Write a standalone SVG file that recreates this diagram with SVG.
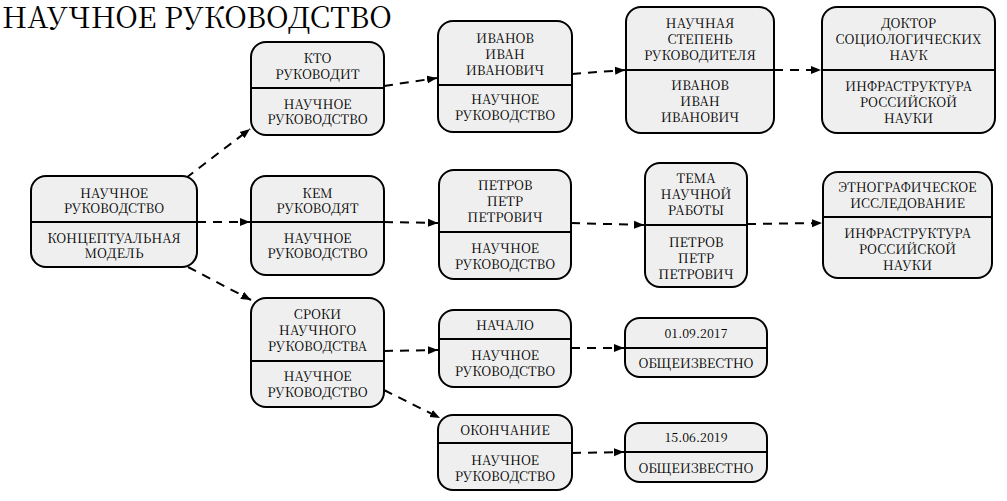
<svg xmlns="http://www.w3.org/2000/svg" width="1007" height="501" viewBox="0 0 1007 501">
<defs>
<style>
.n rect{fill:#efefef;stroke:#000;stroke-width:2}
.n line{stroke:#000;stroke-width:2}
text{font-family:"Noto Serif CJK SC","Liberation Serif",serif;font-size:13px;fill:#000;text-anchor:middle;dominant-baseline:central}
.t{font-size:29.5px;text-anchor:start;dominant-baseline:alphabetic}
.d{font-size:12.5px}
.e path{fill:none;stroke:#000;stroke-width:2;stroke-dasharray:9,7;marker-end:url(#a)}
</style>
<marker id="a" markerUnits="userSpaceOnUse" markerWidth="12" markerHeight="10" refX="10" refY="5" orient="auto">
<path d="M0,1 L10,5 L0,9 Z" fill="#000"/>
</marker>
</defs>
<rect width="1007" height="501" fill="#fff"/>
<text class="t" x="2" y="28">НАУЧНОЕ РУКОВОДСТВО</text>

<g id="edges" class="e">
<path d="M186,178 L250,129"/>
<path d="M197,222 L250,222"/>
<path d="M188,267 L251,300"/>
<path d="M384,86 L437,78"/>
<path d="M572,74 L625,70"/>
<path d="M774,70 L821,70"/>
<path d="M384,222 L438,223"/>
<path d="M571,223 L644,225"/>
<path d="M747,224 L822,223"/>
<path d="M384,351 L438,350"/>
<path d="M384,390 L440,418"/>
<path d="M571,348 L624,348"/>
<path d="M572,453 L624,452"/>
</g>

<g id="n-root" class="n">
<rect x="31" y="176" width="166" height="91" rx="15"/>
<line x1="31" y1="222" x2="197" y2="222"/>
<text x="114" y="192">НАУЧНОЕ<tspan x="114" dy="15">РУКОВОДСТВО</tspan></text>
<text x="114" y="237">КОНЦЕПТУАЛЬНАЯ<tspan x="114" dy="15">МОДЕЛЬ</tspan></text>
</g>

<g id="n-kto" class="n">
<rect x="251" y="42" width="133" height="93" rx="15"/>
<line x1="251" y1="88" x2="384" y2="88"/>
<text x="317.5" y="57">КТО<tspan x="317.5" dy="16">РУКОВОДИТ</tspan></text>
<text x="317.5" y="103">НАУЧНОЕ<tspan x="317.5" dy="15">РУКОВОДСТВО</tspan></text>
</g>

<g id="n-ivanov" class="n">
<rect x="438" y="21" width="134" height="111" rx="15"/>
<line x1="438" y1="85" x2="572" y2="85"/>
<text x="505" y="37">ИВАНОВ<tspan x="505" dy="16">ИВАН</tspan><tspan x="505" dy="16">ИВАНОВИЧ</tspan></text>
<text x="505" y="98">НАУЧНОЕ<tspan x="505" dy="16">РУКОВОДСТВО</tspan></text>
</g>

<g id="n-stepen" class="n">
<rect x="626" y="7" width="148" height="126" rx="15"/>
<line x1="626" y1="70" x2="774" y2="70"/>
<text x="700" y="22">НАУЧНАЯ<tspan x="700" dy="16">СТЕПЕНЬ</tspan><tspan x="700" dy="16">РУКОВОДИТЕЛЯ</tspan></text>
<text x="700" y="84">ИВАНОВ<tspan x="700" dy="16">ИВАН</tspan><tspan x="700" dy="16">ИВАНОВИЧ</tspan></text>
</g>

<g id="n-doktor" class="n">
<rect x="822" y="7" width="173" height="126" rx="15"/>
<line x1="822" y1="70" x2="995" y2="70"/>
<text x="908.5" y="22">ДОКТОР<tspan x="908.5" dy="16">СОЦИОЛОГИЧЕСКИХ</tspan><tspan x="908.5" dy="16">НАУК</tspan></text>
<text x="908.5" y="85">ИНФРАСТРУКТУРА<tspan x="908.5" dy="16">РОССИЙСКОЙ</tspan><tspan x="908.5" dy="16">НАУКИ</tspan></text>
</g>

<g id="n-kem" class="n">
<rect x="251" y="176" width="133" height="99" rx="15"/>
<line x1="251" y1="222" x2="384" y2="222"/>
<text x="317.5" y="192">КЕМ<tspan x="317.5" dy="15">РУКОВОДЯТ</tspan></text>
<text x="317.5" y="237">НАУЧНОЕ<tspan x="317.5" dy="15">РУКОВОДСТВО</tspan></text>
</g>

<g id="n-petrov" class="n">
<rect x="439" y="170" width="132" height="109" rx="15"/>
<line x1="439" y1="232" x2="571" y2="232"/>
<text x="505" y="184">ПЕТРОВ<tspan x="505" dy="16">ПЕТР</tspan><tspan x="505" dy="16">ПЕТРОВИЧ</tspan></text>
<text x="505" y="247">НАУЧНОЕ<tspan x="505" dy="16">РУКОВОДСТВО</tspan></text>
</g>

<g id="n-tema" class="n">
<rect x="645" y="163" width="102" height="124" rx="15"/>
<line x1="645" y1="225" x2="747" y2="225"/>
<text x="696" y="177">ТЕМА<tspan x="696" dy="16">НАУЧНОЙ</tspan><tspan x="696" dy="16">РАБОТЫ</tspan></text>
<text x="696" y="241">ПЕТРОВ<tspan x="696" dy="16">ПЕТР</tspan><tspan x="696" dy="16">ПЕТРОВИЧ</tspan></text>
</g>

<g id="n-etno" class="n">
<rect x="823" y="172" width="169" height="106" rx="15"/>
<line x1="823" y1="217" x2="992" y2="217"/>
<text x="907.5" y="186">ЭТНОГРАФИЧЕСКОЕ<tspan x="907.5" dy="16">ИССЛЕДОВАНИЕ</tspan></text>
<text x="907.5" y="232">ИНФРАСТРУКТУРА<tspan x="907.5" dy="16">РОССИЙСКОЙ</tspan><tspan x="907.5" dy="16">НАУКИ</tspan></text>
</g>

<g id="n-sroki" class="n">
<rect x="251" y="298" width="133" height="109" rx="15"/>
<line x1="251" y1="361" x2="384" y2="361"/>
<text x="317.5" y="313">СРОКИ<tspan x="317.5" dy="16">НАУЧНОГО</tspan><tspan x="317.5" dy="16">РУКОВОДСТВА</tspan></text>
<text x="317.5" y="375">НАУЧНОЕ<tspan x="317.5" dy="16">РУКОВОДСТВО</tspan></text>
</g>

<g id="n-nachalo" class="n">
<rect x="439" y="310" width="132" height="77" rx="15"/>
<line x1="439" y1="339" x2="571" y2="339"/>
<text x="505" y="324">НАЧАЛО</text>
<text x="505" y="354">НАУЧНОЕ<tspan x="505" dy="16">РУКОВОДСТВО</tspan></text>
</g>

<g id="n-date1" class="n">
<rect x="625" y="318" width="142" height="59" rx="15"/>
<line x1="625" y1="348" x2="767" y2="348"/>
<text class="d" x="696" y="333">01.09.2017</text>
<text x="696" y="362">ОБЩЕИЗВЕСТНО</text>
</g>

<g id="n-okonch" class="n">
<rect x="438" y="415" width="134" height="75" rx="15"/>
<line x1="438" y1="443" x2="572" y2="443"/>
<text x="505" y="429">ОКОНЧАНИЕ</text>
<text x="505" y="459">НАУЧНОЕ<tspan x="505" dy="16">РУКОВОДСТВО</tspan></text>
</g>

<g id="n-date2" class="n">
<rect x="625" y="423" width="142" height="59" rx="15"/>
<line x1="625" y1="452" x2="767" y2="452"/>
<text class="d" x="696" y="437">15.06.2019</text>
<text x="696" y="467">ОБЩЕИЗВЕСТНО</text>
</g>
</svg>
